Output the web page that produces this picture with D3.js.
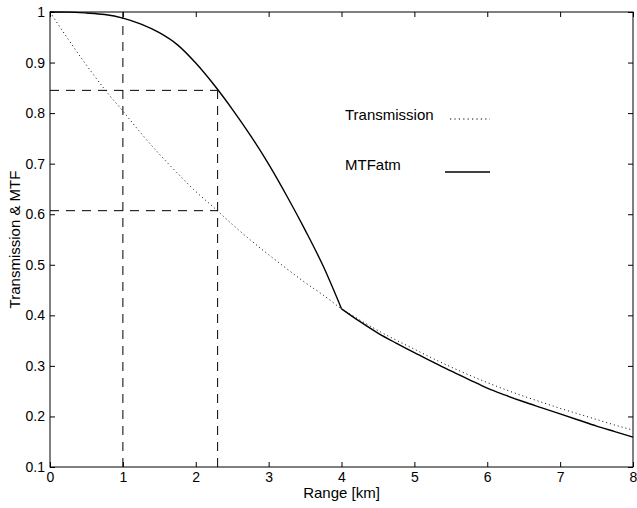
<!DOCTYPE html>
<html>
<head>
<meta charset="utf-8">
<script src="https://cdn.jsdelivr.net/npm/d3@7/dist/d3.min.js"></script>
<style>
  html, body { margin: 0; padding: 0; background: #fff; }
  svg { display: block; }
  text { font-family: "Liberation Sans", Arial, Helvetica, sans-serif; fill: #000; }
</style>
</head>
<body>
<svg id="chart" width="637" height="508"></svg>
<script>
// Range samples [km]
const rangeKm = [0, 0.25, 0.5, 0.75, 1, 1.25, 1.5, 1.75, 2, 2.25, 2.5, 2.75, 3, 3.25, 3.5, 3.75,
                 4, 4.25, 4.5, 4.75, 5, 5.25, 5.5, 5.75, 6, 6.25, 6.5, 6.75, 7, 7.25, 7.5, 7.75, 8];

// Atmospheric transmission
const transmission = [1.000, 0.946, 0.895, 0.847, 0.804, 0.760, 0.719, 0.681, 0.645, 0.613, 0.580,
                      0.549, 0.520, 0.492, 0.465, 0.440, 0.413, 0.391, 0.370, 0.351, 0.333, 0.315,
                      0.298, 0.282, 0.267, 0.253, 0.240, 0.228, 0.216, 0.205, 0.194, 0.183, 0.173];

// Atmospheric MTF
const mtfAtm = [1.000, 0.9998, 0.998, 0.995, 0.988, 0.976, 0.959, 0.935, 0.899, 0.856, 0.808,
                0.756, 0.699, 0.636, 0.569, 0.497, 0.413, 0.388, 0.365, 0.345, 0.326, 0.308,
                0.290, 0.273, 0.256, 0.242, 0.229, 0.217, 0.205, 0.193, 0.181, 0.170, 0.159];

// Range where the MTF curve changes regime
const kneeKm = 4;

const markerRangeKm = [1, 2.3];
const markerMtf = 0.845;
const markerTransmission = 0.607;

const xTicks = [0, 1, 2, 3, 4, 5, 6, 7, 8];
const yTicks = [0.1, 0.2, 0.3, 0.4, 0.5, 0.6, 0.7, 0.8, 0.9, 1];

const legendLabels = ["Transmission", "MTFatm"];

const svg = d3.select("#chart");
const width = 637, height = 508;
const margin = { top: 12, right: 4, bottom: 41, left: 50 };

const x = d3.scaleLinear().domain([0, 8]).range([margin.left, width - margin.right]);
const y = d3.scaleLinear().domain([0.1, 1]).range([height - margin.bottom, margin.top]);

const fmt = d => d === 1 ? "1" : d3.format(".1f")(d);

// Axes with inward ticks on all four sides
const gx = svg.append("g").attr("transform", `translate(0,${y(0.1)})`)
  .call(d3.axisBottom(x).tickValues(xTicks).tickSize(-5).tickPadding(5).tickFormat(d3.format("d")));
const gy = svg.append("g").attr("transform", `translate(${x(0)},0)`)
  .call(d3.axisLeft(y).tickValues(yTicks).tickSize(-5).tickPadding(5).tickFormat(fmt));
const gt = svg.append("g").attr("transform", `translate(0,${y(1)})`)
  .call(d3.axisTop(x).tickValues(xTicks).tickSize(-5).tickFormat(""));
const gr = svg.append("g").attr("transform", `translate(${x(8)},0)`)
  .call(d3.axisRight(y).tickValues(yTicks).tickSize(-5).tickFormat(""));

[gx, gy, gt, gr].forEach(g => {
  g.select(".domain").remove();
  g.selectAll(".tick line").attr("stroke", "#000").attr("stroke-width", 1);
  g.selectAll(".tick text").attr("font-size", 14).attr("fill", "#000")
    .style("font-family", '"Liberation Sans", Arial, Helvetica, sans-serif');
});

// Plot frame
svg.append("rect")
  .attr("x", x(0)).attr("y", y(1))
  .attr("width", x(8) - x(0)).attr("height", y(0.1) - y(1))
  .attr("fill", "none").attr("stroke", "#000").attr("stroke-width", 1);

// Dashed reference lines
const dash = "9,7";
const refs = [
  { x1: markerRangeKm[0], y1: 0.1, x2: markerRangeKm[0], y2: 1 },
  { x1: markerRangeKm[1], y1: 0.1, x2: markerRangeKm[1], y2: markerMtf },
  { x1: 0, y1: markerMtf, x2: markerRangeKm[1], y2: markerMtf },
  { x1: 0, y1: markerTransmission, x2: markerRangeKm[1], y2: markerTransmission }
];
svg.append("g").selectAll("line").data(refs).join("line")
  .attr("x1", d => x(d.x1)).attr("y1", d => y(d.y1))
  .attr("x2", d => x(d.x2)).attr("y2", d => y(d.y2))
  .attr("stroke", "#000").attr("stroke-width", 1).attr("stroke-dasharray", dash);

const pts = (ys) => rangeKm.map((r, i) => [r, ys[i]]);
const line = d3.line().x(d => x(d[0])).y(d => y(d[1])).curve(d3.curveMonotoneX);

// Transmission (dotted)
svg.append("path")
  .datum(pts(transmission))
  .attr("d", line)
  .attr("fill", "none").attr("stroke", "#000").attr("stroke-width", 1)
  .attr("stroke-dasharray", "1,3");

// MTFatm (solid), drawn as two pieces so the knee stays sharp
const mtfPts = pts(mtfAtm);
[mtfPts.filter(d => d[0] <= kneeKm), mtfPts.filter(d => d[0] >= kneeKm)].forEach(seg => {
  svg.append("path")
    .datum(seg)
    .attr("d", line)
    .attr("fill", "none").attr("stroke", "#000").attr("stroke-width", 1.4);
});

// Legend
const lg = svg.append("g");
lg.append("text").attr("x", 345).attr("y", 120).attr("font-size", 15).text(legendLabels[0]);
lg.append("line").attr("x1", 450).attr("x2", 490).attr("y1", 119).attr("y2", 119)
  .attr("stroke", "#000").attr("stroke-width", 1.2).attr("stroke-dasharray", "1.2,3.2");
lg.append("text").attr("x", 345).attr("y", 170).attr("font-size", 15).text(legendLabels[1]);
lg.append("line").attr("x1", 445).attr("x2", 490).attr("y1", 172).attr("y2", 172)
  .attr("stroke", "#000").attr("stroke-width", 1.4);

// Axis titles
svg.append("text")
  .attr("x", (x(0) + x(8)) / 2).attr("y", 498)
  .attr("text-anchor", "middle").attr("font-size", 15)
  .text("Range [km]");
svg.append("text")
  .attr("transform", `translate(20,${(y(0.1) + y(1)) / 2}) rotate(-90)`)
  .attr("text-anchor", "middle").attr("font-size", 15)
  .text("Transmission & MTF");
</script>
</body>
</html>
